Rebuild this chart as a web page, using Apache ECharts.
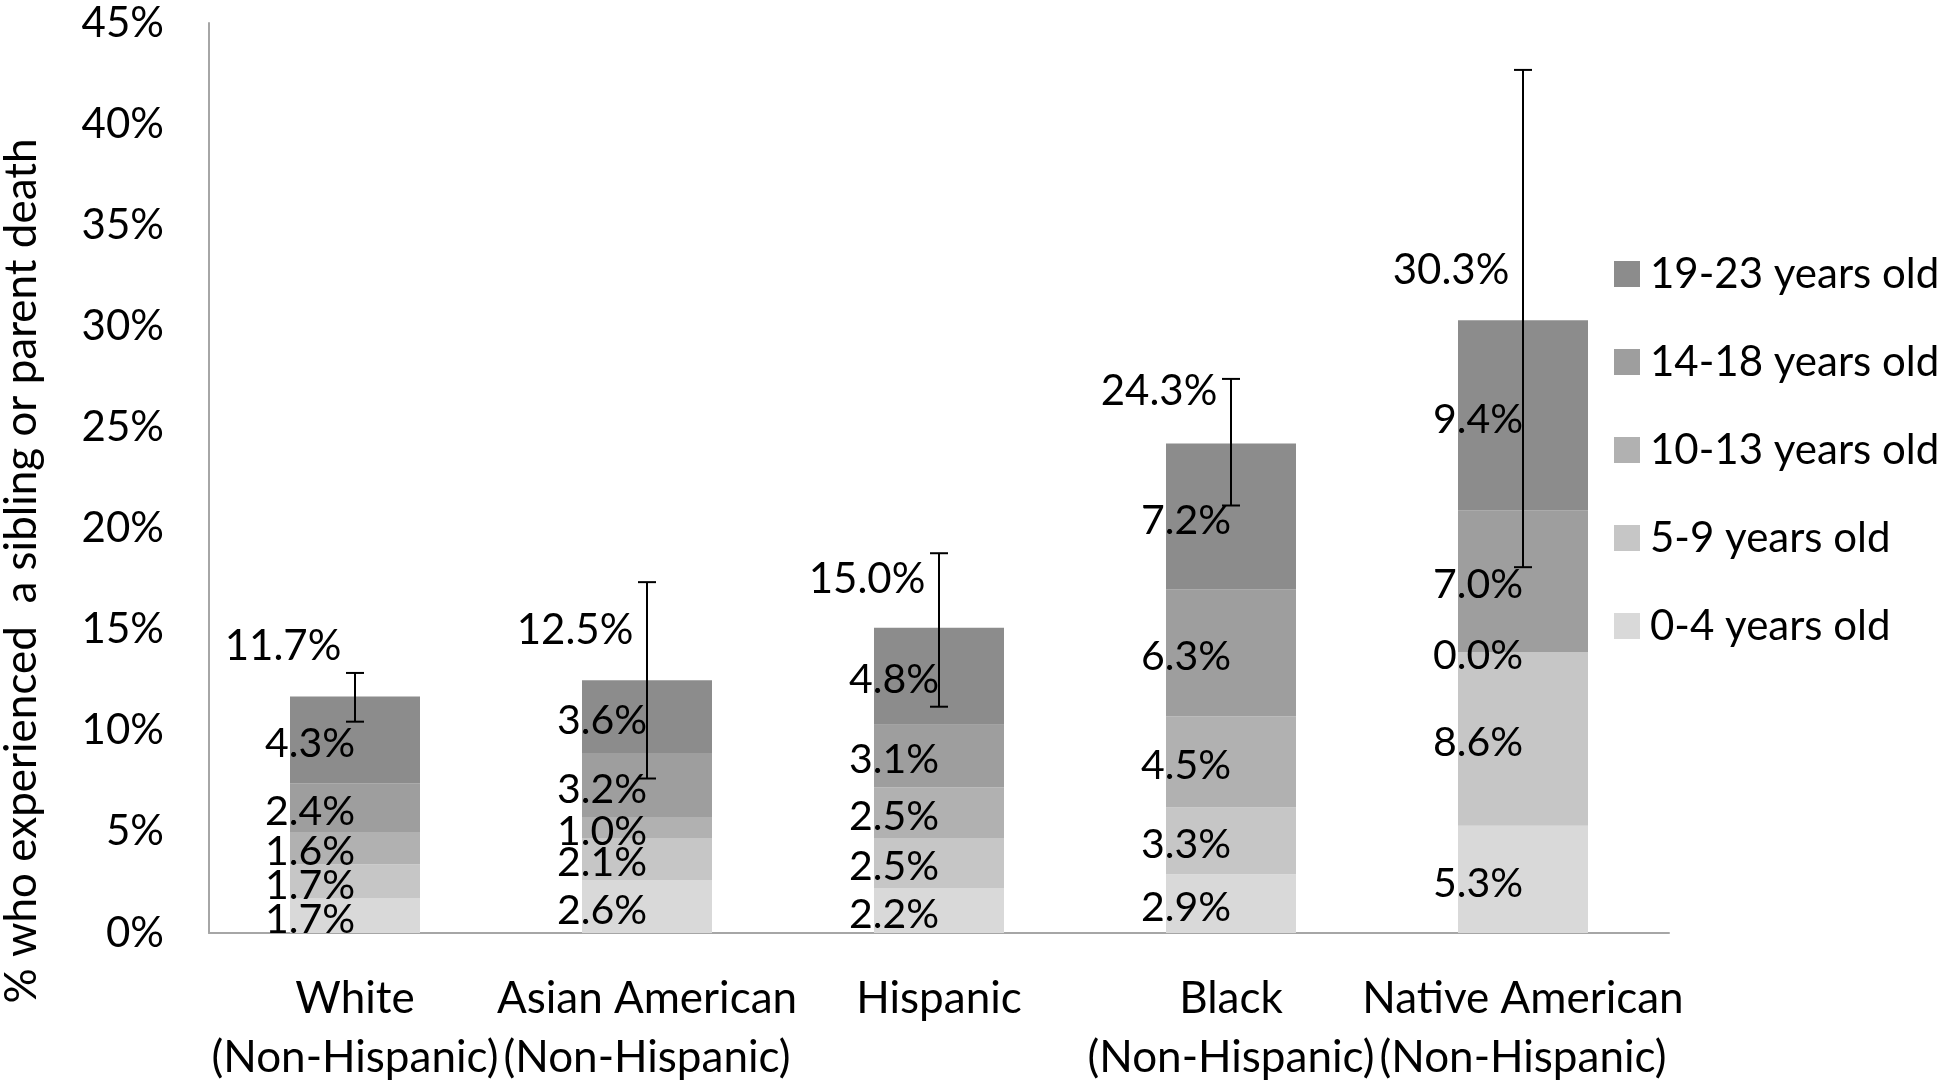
<!DOCTYPE html>
<html>
<head>
<meta charset="utf-8">
<script src="https://cdn.jsdelivr.net/npm/echarts@6/dist/echarts.min.js"></script>
<style>html,body{margin:0;padding:0;background:#fff}#c{width:1950px;height:1087px}</style>
</head>
<body>
<div id="c"></div>
<script>
var categories = ['White\n(Non-Hispanic)', 'Asian American\n(Non-Hispanic)', 'Hispanic', 'Black\n(Non-Hispanic)', 'Native American\n(Non-Hispanic)'];
var age0_4   = [1.7, 2.6, 2.2, 2.9, 5.3];
var age5_9   = [1.7, 2.1, 2.5, 3.3, 8.6];
var age10_13 = [1.6, 1.0, 2.5, 4.5, 0.0];
var age14_18 = [2.4, 3.2, 3.1, 6.3, 7.0];
var age19_23 = [4.3, 3.6, 4.8, 7.2, 9.4];
var totals   = [11.7, 12.5, 15.0, 24.3, 30.3];
var errLow   = [10.45, 7.64, 11.19, 21.14, 18.09];
var errHigh  = [12.86, 17.35, 18.78, 27.4, 42.68];
var seriesNames = ['0-4 years old', '5-9 years old', '10-13 years old', '14-18 years old', '19-23 years old'];
var yTicks = [0, 5, 10, 15, 20, 25, 30, 35, 40, 45];

var FONT = 'Lato';
var colors = ['#d9d9d9', '#c6c6c6', '#b1b1b1', '#9e9e9e', '#8c8c8c'];
var segData = [age0_4, age5_9, age10_13, age14_18, age19_23];

var series = segData.map(function (d, i) {
  return {
    name: seriesNames[i],
    type: 'bar',
    stack: 'total',
    barWidth: 130,
    data: d,
    itemStyle: { color: colors[i] },
    label: {
      show: true,
      position: 'inside',
      offset: [-45, 4],
      color: '#000',
      fontFamily: FONT,
      fontSize: 41,
      formatter: function (p) { return p.value.toFixed(1) + '%'; }
    },
    emphasis: { disabled: true }
  };
});

series.push({
  type: 'scatter',
  symbolSize: 0,
  data: totals,
  z: 10,
  itemStyle: { opacity: 1, color: '#000' },
  label: {
    show: true,
    position: 'inside',
    offset: [-72, -50],
    color: '#000',
    opacity: 1,
    fontFamily: FONT,
    fontSize: 42,
    formatter: function (p) { return p.value.toFixed(1) + '%'; }
  },
  emphasis: { disabled: true },
  silent: true
});

series.push({
  type: 'custom',
  z: 20,
  silent: true,
  data: errLow.map(function (lo, i) { return [i, lo, errHigh[i]]; }),
  renderItem: function (params, api) {
    var x = api.value(0);
    var lo = api.coord([x, api.value(1)]);
    var hi = api.coord([x, api.value(2)]);
    var cap = 9;
    var st = { stroke: '#000', lineWidth: 2 };
    return {
      type: 'group',
      children: [
        { type: 'line', shape: { x1: lo[0], y1: lo[1], x2: hi[0], y2: hi[1] }, style: st },
        { type: 'line', shape: { x1: hi[0] - cap, y1: hi[1], x2: hi[0] + cap, y2: hi[1] }, style: st },
        { type: 'line', shape: { x1: lo[0] - cap, y1: lo[1], x2: lo[0] + cap, y2: lo[1] }, style: st }
      ]
    };
  }
});

var chart = echarts.init(document.getElementById('c'));
chart.setOption({
  animation: false,
  backgroundColor: '#fff',
  grid: { left: 209, top: 23, width: 1460, height: 917, containLabel: false },
  legend: {
    orient: 'vertical',
    left: 1609,
    top: 244,
    itemWidth: 26,
    itemHeight: 26,
    itemGap: 38,
    icon: 'rect',
    data: seriesNames.slice().reverse(),
    textStyle: { fontFamily: FONT, fontSize: 42, color: '#000', lineHeight: 50, padding: [0, 0, 0, 5] },
    selectedMode: false
  },
  xAxis: {
    type: 'category',
    data: categories,
    axisLine: { lineStyle: { color: '#a6a6a6', width: 2 } },
    axisTick: { show: false },
    axisLabel: { color: '#000', fontFamily: FONT, fontSize: 44, lineHeight: 59, margin: 36, interval: 0 }
  },
  yAxis: {
    type: 'value',
    min: 0,
    max: 45,
    interval: 5,
    axisLine: { show: true, lineStyle: { color: '#a6a6a6', width: 2 } },
    axisTick: { show: false },
    splitLine: { show: false },
    axisLabel: { color: '#000', fontFamily: FONT, fontSize: 42, margin: 45, formatter: '{value}%' }
  },
  graphic: [{
    type: 'text',
    x: 22,
    y: 571,
    rotation: Math.PI / 2,
    style: {
      text: '% who experienced  a sibling or parent death',
      fontFamily: FONT,
      fontSize: 44,
      fill: '#000',
      align: 'center',
      verticalAlign: 'middle'
    }
  }],
  series: series
});
</script>
</body>
</html>
